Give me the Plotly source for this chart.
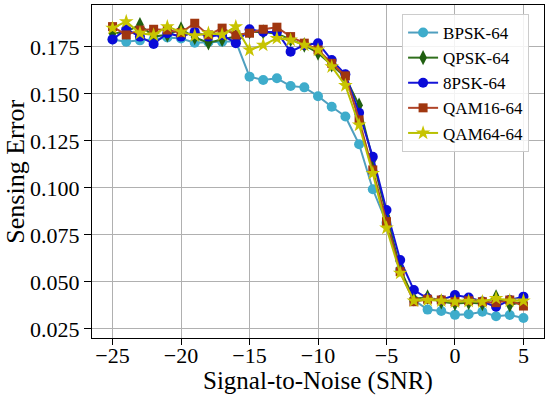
import plotly.graph_objects as go

snr = list(range(-25, 6))

bpsk = [0.1790, 0.1778, 0.1785, 0.1790, 0.1800, 0.1795, 0.1772, 0.1775, 0.1778, 0.1780,
        0.1592, 0.1574, 0.1583, 0.1542, 0.1535, 0.1488, 0.1432, 0.1380, 0.1232, 0.0993,
        0.0815, 0.0563, 0.0404, 0.0353, 0.0346, 0.0325, 0.0328, 0.0342, 0.0318, 0.0324, 0.0308]
qpsk = [0.1822, 0.1830, 0.1868, 0.1805, 0.1815, 0.1845, 0.1800, 0.1772, 0.1790, 0.1805,
        0.1830, 0.1830, 0.1820, 0.1790, 0.1760, 0.1718, 0.1655, 0.1590, 0.1440, 0.1150,
        0.0850, 0.0570, 0.0410, 0.0420, 0.0395, 0.0385, 0.0390, 0.0385, 0.0420, 0.0378, 0.0395]
psk8 = [0.1790, 0.1844, 0.1805, 0.1766, 0.1823, 0.1805, 0.1830, 0.1805, 0.1814, 0.1770,
        0.1844, 0.1830, 0.1830, 0.1725, 0.1760, 0.1770, 0.1680, 0.1605, 0.1400, 0.1166,
        0.0883, 0.0617, 0.0457, 0.0413, 0.0404, 0.0431, 0.0417, 0.0396, 0.0368, 0.0404, 0.0422]
qam16 = [0.1858, 0.1814, 0.1840, 0.1844, 0.1840, 0.1826, 0.1876, 0.1814, 0.1850, 0.1814,
         0.1823, 0.1844, 0.1855, 0.1805, 0.1770, 0.1734, 0.1663, 0.1596, 0.1362, 0.1096,
         0.0821, 0.0555, 0.0395, 0.0408, 0.0404, 0.0395, 0.0400, 0.0395, 0.0390, 0.0404, 0.0372]
qam64 = [0.1850, 0.1885, 0.1823, 0.1814, 0.1858, 0.1830, 0.1810, 0.1823, 0.1815, 0.1858,
         0.1734, 0.1760, 0.1796, 0.1787, 0.1760, 0.1734, 0.1645, 0.1545, 0.1335, 0.1078,
         0.0787, 0.0547, 0.0400, 0.0404, 0.0400, 0.0395, 0.0398, 0.0395, 0.0413, 0.0400, 0.0400]

x_ticks = [-25, -20, -15, -10, -5, 0, 5]
y_ticks = [0.025, 0.05, 0.075, 0.1, 0.125, 0.15, 0.175]

series = [
    ("BPSK-64", bpsk, "#4f9fbf", "#3eaccb", "circle", 10),
    ("QPSK-64", qpsk, "#2f6f1c", "#1f5f10", "diamond-tall", 11),
    ("8PSK-64", psk8, "#1414d8", "#0a0ad8", "circle", 10),
    ("QAM16-64", qam16, "#b04428", "#a0360f", "square", 9),
    ("QAM64-64", qam64, "#b8c000", "#c8c400", "star", 11),
]

fig = go.Figure()
for name, vals, lc, mc, sym, ms in series:
    fig.add_trace(go.Scatter(
        x=snr, y=vals, name=name, mode="lines+markers",
        line=dict(color=lc, width=2),
        marker=dict(color=mc, symbol=sym, size=ms, line=dict(width=0)),
    ))

font_family = "Liberation Serif"
fig.update_layout(
    width=550, height=396,
    margin=dict(l=92, r=6, t=5, b=58),
    paper_bgcolor="white", plot_bgcolor="white",
    font=dict(family=font_family, color="black", size=22),
    showlegend=True,
    legend=dict(
        x=0.967, y=0.973, xanchor="right", yanchor="top",
        bgcolor="rgba(255,255,255,0.85)", bordercolor="#cccccc", borderwidth=1,
        font=dict(family=font_family, size=17, color="black"),
        itemwidth=30,
    ),
    annotations=[
        dict(text="Signal-to-Noise (SNR)", xref="paper", yref="paper",
             x=0.5, y=-0.129, xanchor="center", yanchor="middle", showarrow=False,
             font=dict(family=font_family, size=25, color="black")),
        dict(text="Sensing Error", xref="paper", yref="paper",
             x=-0.170, y=0.5, xanchor="center", yanchor="middle", showarrow=False,
             textangle=-90,
             font=dict(family=font_family, size=26, color="black")),
    ],
)
fig.update_xaxes(
    range=[-26.5, 6.5], tickvals=x_ticks,
    showgrid=True, gridcolor="#b0b0b0", gridwidth=1,
    showline=True, linecolor="black", linewidth=1, mirror=True,
    ticks="outside", ticklen=6, tickcolor="black",
    tickfont=dict(family=font_family, size=22),
    ticklabelstandoff=-8,
    automargin=False, zeroline=False,
)
fig.update_yaxes(
    range=[0.0202, 0.1973], tickvals=y_ticks,
    tickformat=".3f",
    showgrid=True, gridcolor="#b0b0b0", gridwidth=1,
    showline=True, linecolor="black", linewidth=1, mirror=True,
    ticks="outside", ticklen=7, tickcolor="black",
    tickfont=dict(family=font_family, size=22),
    automargin=False, zeroline=False,
)
fig.write_html("out.html", config={"displayModeBar": False})

with open("out.html", "r", encoding="utf-8") as f:
    html = f.read()
html = html.replace("<body>", '<body style="margin:0;padding:0;overflow:hidden">', 1)
with open("out.html", "w", encoding="utf-8") as f:
    f.write(html)
